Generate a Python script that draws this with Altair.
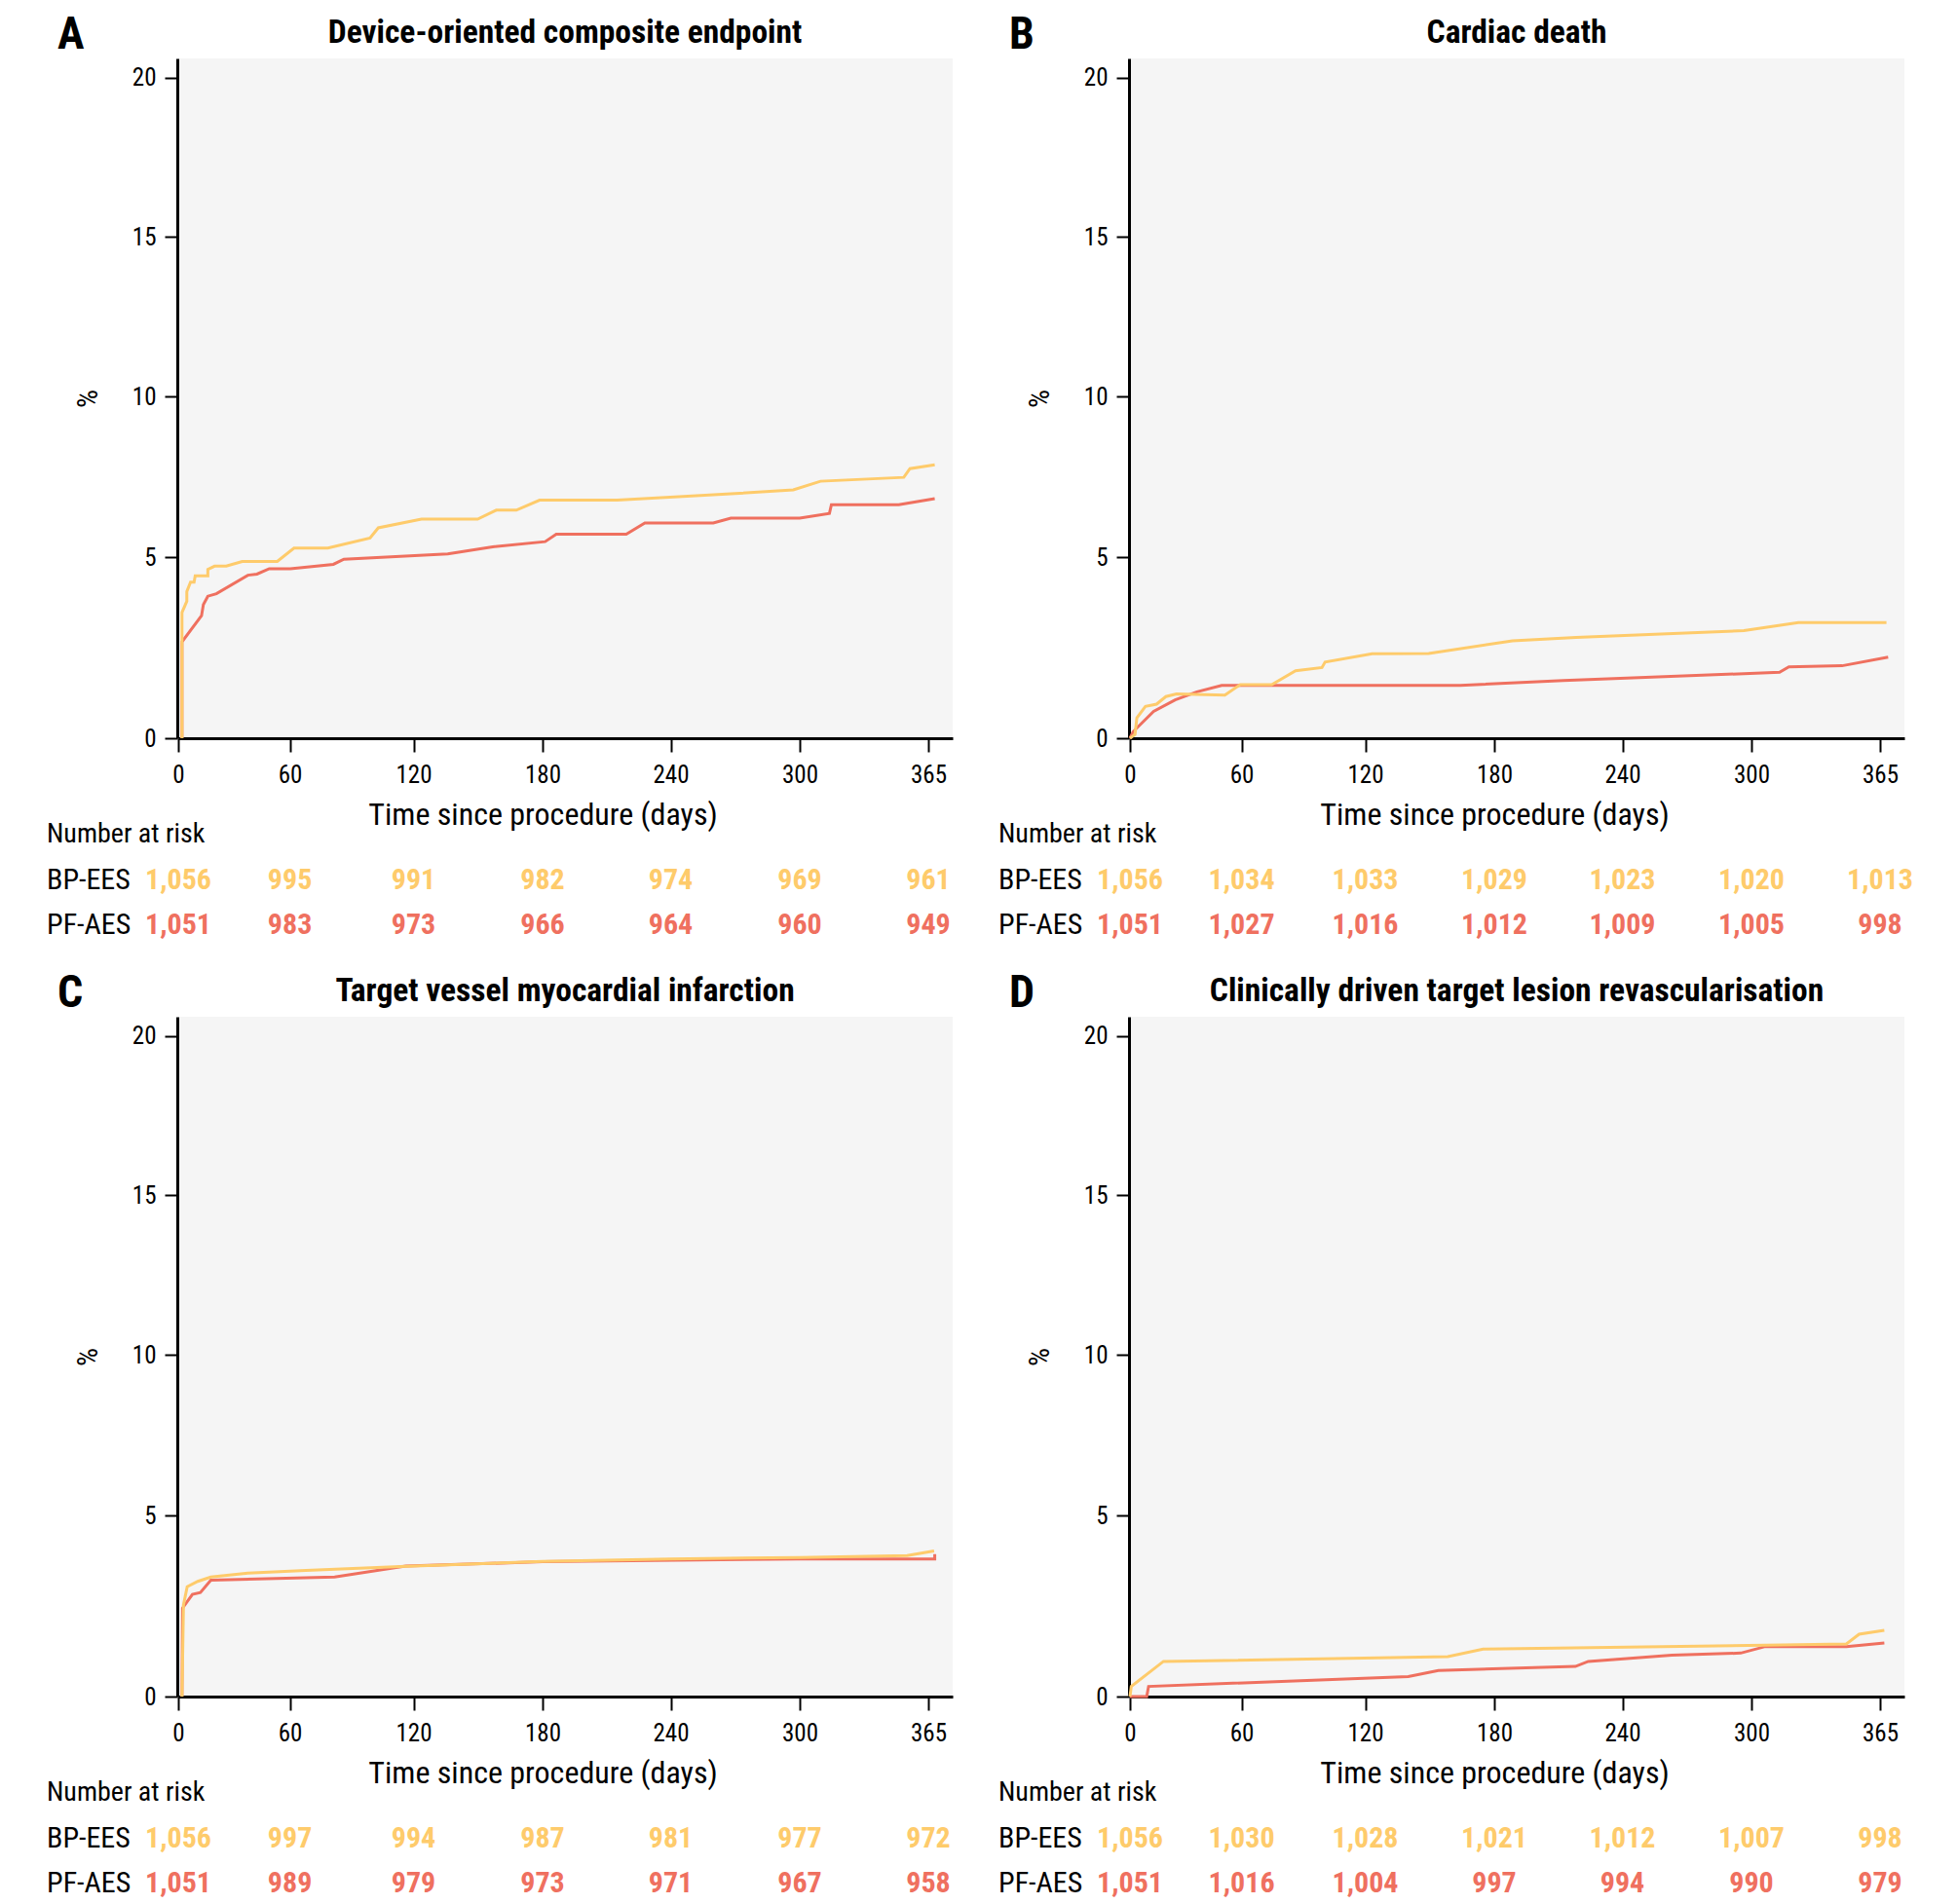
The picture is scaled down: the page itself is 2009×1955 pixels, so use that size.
import altair as alt
import pandas as pd

FONT = "'Liberation Sans Narrow', 'Roboto Condensed', 'DejaVu Sans Condensed', 'Liberation Sans', sans-serif"
YELLOW = "#FECB6B"
RED = "#EF705F"

TITLES = ["Device-oriented composite endpoint", "Cardiac death",
          "Target vessel myocardial infarction",
          "Clinically driven target lesion revascularisation"]
LETTERS = ["A", "B", "C", "D"]
GROUPS = ["BP-EES", "PF-AES"]
X_TICKS = [0, 60, 120, 180, 240, 300, 365]
Y_TICKS = [0, 5, 10, 15, 20]
RISK_DAYS = [0, 60, 120, 180, 240, 300, 365]

# Panel A
A_BP_DAY = [2, 2, 4.6, 4.6, 6.6, 8.5, 9.1, 15.9, 15.9, 19.5, 25.8, 34.4, 53.2, 62, 78.4, 98.9,
            102.9, 123.7, 149.8, 158.5, 167.8, 178.6, 214.9, 268, 297, 310.5, 352.6, 355.7, 368]
A_BP_VAL = [0, 3.47, 3.78, 4.05, 4.31, 4.31, 4.48, 4.48, 4.66, 4.75, 4.75, 4.88, 4.88, 5.28, 5.28, 5.59,
            5.91, 6.18, 6.18, 6.46, 6.46, 6.77, 6.77, 6.97, 7.09, 7.36, 7.48, 7.75, 7.87]
A_PF_DAY = [2, 2, 12.5, 13.5, 15.9, 20.5, 37.4, 42.3, 48.9, 60.2, 81.1, 86.2, 135.9, 156.8, 181.2,
            186.4, 219.2, 227.9, 259.8, 268, 300, 315, 316, 350, 368]
A_PF_VAL = [0, 2.66, 3.38, 3.69, 3.92, 3.99, 4.5, 4.53, 4.68, 4.68, 4.8, 4.94, 5.1, 5.32, 5.48,
            5.71, 5.71, 6.06, 6.06, 6.21, 6.21, 6.36, 6.63, 6.63, 6.82]
A_RISK_BP = ["1,056", "995", "991", "982", "974", "969", "961"]
A_RISK_PF = ["1,051", "983", "973", "966", "964", "960", "949"]

# Panel B
B_BP_DAY = [0, 2.7, 3.7, 8.3, 14.3, 19.3, 25, 51, 59.3, 74.6, 86.2, 99, 100.5, 123.2, 149.5,
            188.5, 218.3, 296.5, 323.7, 368]
B_BP_VAL = [0, 0.1, 0.56, 0.88, 0.94, 1.15, 1.22, 1.19, 1.48, 1.48, 1.86, 1.95, 2.1, 2.33, 2.34,
            2.69, 2.78, 2.97, 3.19, 3.19]
B_PF_DAY = [0, 1.7, 12.7, 24.3, 36, 49.3, 164.2, 212.4, 314.2, 318.9, 345.8, 368.8]
B_PF_VAL = [0, 0.18, 0.74, 1.06, 1.28, 1.46, 1.46, 1.59, 1.82, 1.97, 2.0, 2.24]
B_RISK_BP = ["1,056", "1,034", "1,033", "1,029", "1,023", "1,020", "1,013"]
B_RISK_PF = ["1,051", "1,027", "1,016", "1,012", "1,009", "1,005", "998"]

# Panel C
C_BP_DAY = [2, 2.8, 4.8, 10.5, 17.5, 37.4, 67.7, 113.6, 180, 240, 300, 354.3, 367.7]
C_BP_VAL = [0, 2.53, 3.03, 3.18, 3.30, 3.41, 3.48, 3.59, 3.73, 3.80, 3.84, 3.89, 4.02]
C_PF_DAY = [2, 2.3, 7.6, 11.9, 17.5, 81.7, 116.2, 180, 300, 368, 368]
C_PF_VAL = [0, 2.44, 2.82, 2.87, 3.21, 3.30, 3.60, 3.72, 3.80, 3.80, 3.93]
C_RISK_BP = ["1,056", "997", "994", "987", "981", "977", "972"]
C_RISK_PF = ["1,051", "989", "979", "973", "971", "967", "958"]

# Panel D
D_BP_DAY = [0, 0.7, 18, 158.4, 174.8, 348, 354.4, 367]
D_BP_VAL = [0, 0.28, 0.97, 1.1, 1.31, 1.45, 1.72, 1.83]
D_PF_DAY = [0, 9, 10, 140, 154, 218, 224, 263, 295, 307, 348, 367]
D_PF_VAL = [0, 0, 0.28, 0.55, 0.72, 0.83, 0.97, 1.14, 1.2, 1.38, 1.38, 1.48]
D_RISK_BP = ["1,056", "1,030", "1,028", "1,021", "1,012", "1,007", "998"]
D_RISK_PF = ["1,051", "1,016", "1,004", "997", "994", "990", "979"]

PANELS = [
    (A_BP_DAY, A_BP_VAL, A_PF_DAY, A_PF_VAL, A_RISK_BP, A_RISK_PF),
    (B_BP_DAY, B_BP_VAL, B_PF_DAY, B_PF_VAL, B_RISK_BP, B_RISK_PF),
    (C_BP_DAY, C_BP_VAL, C_PF_DAY, C_PF_VAL, C_RISK_BP, C_RISK_PF),
    (D_BP_DAY, D_BP_VAL, D_PF_DAY, D_PF_VAL, D_RISK_BP, D_RISK_PF),
]

W, H = 796, 698

x_scale = alt.Scale(domain=[0, 60, 120, 180, 240, 300, 365, 376.4],
                    range=[1, 115.6, 242.5, 375, 506.5, 639, 771, 796],
                    nice=False, zero=False)
y_scale = alt.Scale(domain=[0, 5, 10, 15, 20, 20.6],
                    range=[698, 512, 347, 183, 19.7, 0],
                    nice=False, zero=False)
color_scale = alt.Scale(domain=GROUPS, range=[YELLOW, RED])

x_axis = alt.Axis(values=X_TICKS, title="Time since procedure (days)", grid=False,
                  domainColor="black", domainWidth=3, tickColor="black", tickWidth=2,
                  tickSize=14, labelFontSize=25, labelPadding=11, labelFont=FONT,
                  labelColor="black", labelFlush=False, labelOverlap=False,
                  titleFont=FONT, titleFontSize=32, titleFontWeight="normal",
                  titleColor="black", titleX=375, titleY=78, titleBaseline="middle",
                  titleAlign="center")
y_axis = alt.Axis(values=Y_TICKS, title="%", grid=False,
                  domainColor="black", domainWidth=3, tickColor="black", tickWidth=2,
                  tickSize=13, labelFontSize=25, labelPadding=9, labelFont=FONT,
                  labelColor="black", labelFlush=False, labelOverlap=False,
                  titleFont=FONT, titleFontSize=30, titleFontWeight="normal",
                  titleColor="black", titleX=-92, titleY=H / 2, titleBaseline="middle",
                  titleAlign="center", titleAngle=270)

ROW_Y = [797, 844, 890]


def panel(idx):
    bp_d, bp_v, pf_d, pf_v, r_bp, r_pf = PANELS[idx]
    rows = []
    for g, ds, vs in [(GROUPS[1], pf_d, pf_v), (GROUPS[0], bp_d, bp_v)]:
        for i, (d, v) in enumerate(zip(ds, vs)):
            rows.append({"day": d, "val": v, "group": g, "i": i})
    df = pd.DataFrame(rows)

    lines = alt.Chart(df).mark_line(strokeWidth=3, clip=False).encode(
        x=alt.X("day:Q", scale=x_scale, axis=x_axis),
        y=alt.Y("val:Q", scale=y_scale, axis=y_axis),
        color=alt.Color("group:N", scale=color_scale, legend=None),
        detail="group:N",
        order="i:Q",
    )

    layers = [lines]
    for g, vals, ypos in [(GROUPS[0], r_bp, ROW_Y[1]), (GROUPS[1], r_pf, ROW_Y[2])]:
        rdf = pd.DataFrame({"day": RISK_DAYS, "n": vals, "group": [g] * len(vals)})
        layers.append(alt.Chart(rdf).mark_text(
            font=FONT, fontSize=30, fontWeight="bold", align="center", baseline="middle"
        ).encode(
            x=alt.X("day:Q", scale=x_scale, axis=x_axis),
            y=alt.value(ypos),
            text="n:N",
            color=alt.Color("group:N", scale=color_scale, legend=None),
        ))

    lab = pd.DataFrame({"t": ["Number at risk", GROUPS[0], GROUPS[1]]})
    for j, (ypos, fs) in enumerate(zip(ROW_Y, [28, 30, 30])):
        layers.append(alt.Chart(lab.iloc[[j]]).mark_text(
            font=FONT, fontSize=fs, align="left", baseline="middle", color="black"
        ).encode(x=alt.value(-134), y=alt.value(ypos), text="t:N"))

    tdf = pd.DataFrame({"t": [TITLES[idx]]})
    layers.append(alt.Chart(tdf).mark_text(
        font=FONT, fontSize=33.5, fontWeight="bold", align="center", baseline="alphabetic",
        color="black"
    ).encode(x=alt.value(W / 2), y=alt.value(-16), text="t:N"))

    ldf = pd.DataFrame({"t": [LETTERS[idx]]})
    layers.append(alt.Chart(ldf).mark_text(
        font=FONT, fontSize=46, fontWeight="bold", align="left", baseline="alphabetic",
        color="black"
    ).encode(x=alt.value(-123), y=alt.value(-10), text="t:N"))

    return alt.layer(*layers).properties(width=W, height=H)


chart = alt.concat(
    panel(0), panel(1), panel(2), panel(3),
    columns=2, spacing=alt.RowColnumber(row=286, column=181), bounds="flush"
).properties(
    padding={"left": 40, "top": 5, "right": 5, "bottom": 5}
).configure(background="white").configure_view(fill="#F5F5F5", strokeWidth=0)

chart.save("out.html", embed_options={"renderer": "svg", "actions": False})
